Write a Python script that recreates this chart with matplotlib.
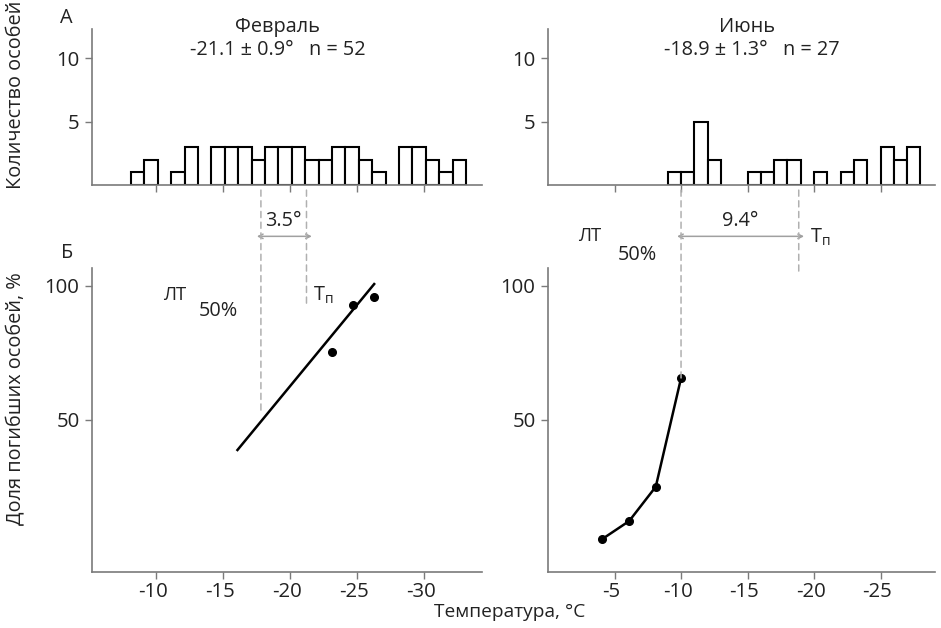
import numpy as np
import matplotlib
matplotlib.use("Agg")
import matplotlib.pyplot as plt
from matplotlib.patches import ConnectionPatch
from matplotlib.transforms import ScaledTranslation

plt.rcParams['font.family'] = ['Open Sans', 'DejaVu Sans']
plt.rcParams['axes.unicode_minus'] = False

# histogram, February (1-degree bins, left edges in degrees below zero)
feb_edges = [8.1, 9.1, 10.1, 11.1, 12.1, 13.1, 14.1, 15.1, 16.1, 17.1, 18.1, 19.1, 20.1,
             21.1, 22.1, 23.1, 24.1, 25.1, 26.1, 27.1, 28.1, 29.1, 30.1, 31.1, 32.1, 33.1]
feb_counts = [1, 2, 0, 1, 3, 0, 3, 3, 3, 2, 3, 3, 3, 2, 2, 3, 3, 2, 1, 0, 3, 3, 2, 1, 2]

# histogram, June
jun_edges = [9, 10, 11, 12, 13, 14, 15, 16, 17, 18, 19, 20, 21, 22, 23, 24, 25, 26, 27, 28]
jun_counts = [1, 1, 5, 2, 0, 0, 1, 1, 2, 2, 0, 1, 0, 1, 2, 0, 3, 2, 3]

# mortality, February
feb_temp = [-23.1, -24.7, -26.2]
feb_mort = [75.5, 92.9, 95.8]
feb_fit_x = [-16.05, -26.25]
feb_fit_y = [38.8, 100.7]

# mortality, June
jun_temp = [-4.05, -6.1, -8.1, -10.0]
jun_mort = [5.5, 12.3, 25.1, 65.6]

feb_lt50, feb_tp = -17.8, -21.2
jun_lt50, jun_tp = -10.0, -18.85

feb_ticks = [-10, -15, -20, -25, -30]
jun_ticks = [-5, -10, -15, -20, -25]

GRAY = '#7a7a7a'
TXT = '#222222'
FS = 14.3
TFS = 14.7

fig = plt.figure(figsize=(9.41, 6.28), dpi=100)
ax_ft = fig.add_axes([0.0978, 0.7054, 0.4145, 0.2484])
ax_jt = fig.add_axes([0.5824, 0.7054, 0.4113, 0.2484])
ax_fb = fig.add_axes([0.0978, 0.0892, 0.4145, 0.4841])
ax_jb = fig.add_axes([0.5824, 0.0892, 0.4113, 0.4841])

for ax in (ax_ft, ax_jt, ax_fb, ax_jb):
    for s in ('top', 'right'):
        ax.spines[s].set_visible(False)
    for s in ('left', 'bottom'):
        ax.spines[s].set_color(GRAY)
        ax.spines[s].set_linewidth(1.2)
    ax.tick_params(colors=GRAY, labelcolor=TXT, labelsize=TFS, length=5, width=1, pad=4)
    ax.tick_params(axis='x', pad=2)

# top histograms
for ax, edges, counts in ((ax_ft, feb_edges, feb_counts), (ax_jt, jun_edges, jun_counts)):
    e = -np.array(edges, dtype=float)
    c = np.array(counts)
    m = c > 0
    ax.bar(e[:-1][m], c[m], width=(e[1:] - e[:-1])[m], align='edge',
           facecolor='white', edgecolor='black', linewidth=1.5)
    ax.set_ylim(0, 12.3)
    ax.set_yticks([5, 10])

ax_ft.set_xlim(-5.2, -34.3)
ax_fb.set_xlim(-5.2, -34.3)
ax_jt.set_xlim(0.0, -29.1)
ax_jb.set_xlim(0.0, -29.1)
ax_ft.set_xticks(feb_ticks)
ax_fb.set_xticks(feb_ticks)
ax_jt.set_xticks(jun_ticks)
ax_jb.set_xticks(jun_ticks)
ax_ft.tick_params(axis='x', labelbottom=False)
ax_jt.tick_params(axis='x', labelbottom=False)

# numbers centred on the tick, the hyphen hangs to the left
shift = ScaledTranslation(-3.5 / 100, 0, fig.dpi_scale_trans)
for ax in (ax_fb, ax_jb):
    for lab in ax.get_xticklabels():
        lab.set_transform(lab.get_transform() + shift)

# bottom panels
ax_fb.plot(feb_fit_x, feb_fit_y, color='black', lw=1.8)
ax_fb.plot(feb_temp, feb_mort, 'o', color='black', ms=5.5)
ax_jb.plot(jun_temp, jun_mort, '-o', color='black', lw=1.8, ms=5.5)
for ax in (ax_fb, ax_jb):
    ax.set_ylim(-6.7, 106.7)
    ax.set_yticks([50, 100])

# dashed guide lines from histogram axis down to the curves
for ax_t, ax_b, xv, yend in ((ax_ft, ax_fb, feb_lt50, 52.6), (ax_ft, ax_fb, feb_tp, 92.0),
                             (ax_jt, ax_jb, jun_lt50, 65.6), (ax_jt, ax_jb, jun_tp, 105.0)):
    cp = ConnectionPatch(xyA=(xv, -0.4), coordsA=ax_t.transData,
                         xyB=(xv, yend), coordsB=ax_b.transData,
                         linestyle=(0, (4, 3)), color='#b0b0b0', lw=1.1)
    fig.add_artist(cp)

# difference arrows
for ax, x0, x1, lab in ((ax_fb, feb_lt50, feb_tp, '3.5°'), (ax_jb, jun_lt50, jun_tp, '9.4°')):
    ax.annotate('', xy=(x0 + 0.3, 118.5), xytext=(x1 - 0.4, 118.5),
                arrowprops=dict(arrowstyle='<->', color='#a0a0a0', lw=1.1,
                                shrinkA=0, shrinkB=0, mutation_scale=8),
                annotation_clip=False)
    ax.text((x0 + x1) / 2, 120.5, lab, ha='center', va='bottom', fontsize=FS,
            color=TXT, clip_on=False)

ax_fb.text(-11.4, 96.5, 'ЛТ', fontsize=FS - 1, color=TXT, ha='center', va='center')
ax_fb.text(-14.6, 90.5, '50%', fontsize=FS, color=TXT, ha='center', va='center')
ax_fb.text(-21.7, 96.5, 'Т$_{\\mathregular{п}}$', fontsize=FS, color=TXT, ha='left', va='center')
ax_jb.text(-3.1, 118.5, 'ЛТ', fontsize=FS - 1, color=TXT, ha='center', va='center', clip_on=False)
ax_jb.text(-6.7, 111.5, '50%', fontsize=FS, color=TXT, ha='center', va='center', clip_on=False)
ax_jb.text(-19.7, 118.0, 'Т$_{\\mathregular{п}}$', fontsize=FS, color=TXT, ha='left', va='center',
           clip_on=False)

# titles
fig.text(0.2944, 0.957, 'Февраль', ha='center', va='center', fontsize=FS, color=TXT)
fig.text(0.2955, 0.920, '-21.1 ± 0.9°   n = 52', ha='center', va='center', fontsize=FS, color=TXT)
fig.text(0.794, 0.957, 'Июнь', ha='center', va='center', fontsize=FS, color=TXT)
fig.text(0.799, 0.920, '-18.9 ± 1.3°   n = 27', ha='center', va='center', fontsize=FS, color=TXT)

fig.text(0.071, 0.972, 'А', ha='center', va='center', fontsize=FS, color=TXT)
fig.text(0.071, 0.597, 'Б', ha='center', va='center', fontsize=FS, color=TXT)

fig.text(0.017, 0.849, 'Количество особей', rotation=90, ha='center', va='center',
         fontsize=FS, color=TXT)
fig.text(0.017, 0.365, 'Доля погибших особей, %', rotation=90, ha='center', va='center',
         fontsize=FS, color=TXT)
fig.text(0.542, 0.026, 'Температура, °С', ha='center', va='center', fontsize=FS - 0.5, color=TXT)

fig.savefig('out.png', dpi=100)
